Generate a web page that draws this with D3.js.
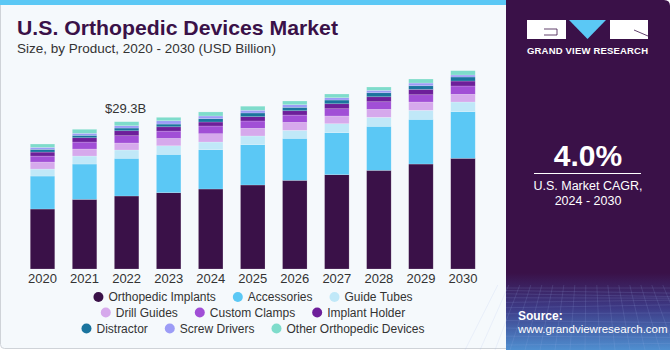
<!DOCTYPE html>
<html lang="en">
<head>
    <meta charset="UTF-8">
    <title>U.S. Orthopedic Devices Market</title>
    <script src="https://d3js.org/d3.v7.min.js"></script>
    <style>
        body {
            margin: 0;
            background: #ffffff;
            font-family: "Liberation Sans", Arial, sans-serif;
        }
        svg {
            display: block;
        }
        .axis-label {
            font-size: 13px;
            fill: #333;
        }
        .legend text {
            font-size: 12px;
            fill: #333;
        }
    </style>
</head>
<body>
    <svg width="670" height="350"></svg>

    <script>
        // Data (USD billion)
        const years = ["2020", "2021", "2022", "2023", "2024", "2025", "2026", "2027", "2028", "2029", "2030"];
        const segments = ["Orthopedic Implants", "Accessories", "Guide Tubes", "Drill Guides", "Custom Clamps",
            "Implant Holder", "Distractor", "Screw Drivers", "Other Orthopedic Devices"];
        const segmentColors = ["#3a1148", "#5bc8f5", "#c0e8f8", "#d6a9ec", "#a14fd6", "#6d1f9a", "#1a749e", "#9c9cf6", "#7edccb"];

        const orthopedicImplants = [11.93, 13.86, 14.52, 15.18, 15.91, 16.71, 17.64, 18.76, 19.63, 20.88, 22.02];
        const accessories        = [6.56, 7.02, 7.50, 7.62, 7.82, 8.02, 8.35, 8.35, 8.75, 8.89, 9.27];
        const guideTubes         = [1.39, 1.59, 1.65, 1.71, 1.53, 1.73, 1.59, 1.79, 1.79, 1.79, 1.93];
        const drillGuides        = [1.39, 1.39, 1.39, 1.47, 1.65, 1.53, 1.59, 1.53, 1.59, 1.65, 1.53];
        const customClamps       = [1.19, 1.39, 1.45, 1.45, 1.53, 1.45, 1.45, 1.45, 1.51, 1.45, 1.65];
        const implantHolder      = [0.80, 0.86, 0.99, 0.86, 0.80, 0.86, 0.86, 0.99, 0.99, 1.07, 0.99];
        const distractor         = [0.54, 0.48, 0.54, 0.54, 0.66, 0.74, 0.68, 0.74, 0.80, 0.72, 0.80];
        const screwDrivers       = [0.40, 0.40, 0.46, 0.66, 0.54, 0.54, 0.52, 0.46, 0.48, 0.54, 0.40];
        const otherDevices       = [0.66, 0.80, 0.80, 0.68, 0.80, 0.80, 0.74, 0.74, 0.66, 0.80, 0.86];

        const seriesValues = [orthopedicImplants, accessories, guideTubes, drillGuides, customClamps,
            implantHolder, distractor, screwDrivers, otherDevices];

        const calloutYear = "2022";
        const calloutText = "$29.3B";
        const legendRows = [[0, 1, 2], [3, 4, 5], [6, 7, 8]];

        // table for d3.stack
        const table = years.map((yr, i) => {
            const row = { year: yr };
            segments.forEach((s, j) => row[s] = seriesValues[j][i]);
            return row;
        });

        const svg = d3.select("svg");
        const W = 670, H = 350;
        const panelW = 506;

        // chart panel background
        svg.append("rect")
            .attr("x", 0.5).attr("y", 0.5)
            .attr("width", panelW + 6).attr("height", H - 2)
            .attr("rx", 4)
            .attr("fill", "#f5f9fc")
            .attr("stroke", "#cfd3d8");
        svg.append("rect")
            .attr("x", 0).attr("y", 0)
            .attr("width", panelW).attr("height", 5)
            .attr("fill", "#5bc8f5");

        // titles
        svg.append("text")
            .attr("x", 17).attr("y", 35)
            .attr("font-size", 21).attr("font-weight", "bold")
            .attr("fill", "#3a1148")
            .attr("textLength", 321).attr("lengthAdjust", "spacingAndGlyphs")
            .text("U.S. Orthopedic Devices Market");
        svg.append("text")
            .attr("x", 17).attr("y", 53)
            .attr("font-size", 13.5).attr("fill", "#333")
            .text("Size, by Product, 2020 - 2030 (USD Billion)");

        // scales
        const baseline = 269;
        const x = d3.scaleBand()
            .domain(years)
            .range([21.5, 484])
            .paddingInner(0.417)
            .paddingOuter(0.2085);
        const y = d3.scaleLinear()
            .domain([0, 40])
            .range([baseline, baseline - 40 * 147.3 / 29.3]);

        const stack = d3.stack().keys(segments);
        const stacked = stack(table);

        const bars = svg.append("g");
        bars.selectAll("g")
            .data(stacked)
            .join("g")
            .attr("fill", (d, i) => segmentColors[i])
            .selectAll("rect")
            .data(d => d)
            .join("rect")
            .attr("x", d => x(d.data.year))
            .attr("width", x.bandwidth())
            .attr("y", d => y(d[1]))
            .attr("height", d => y(d[0]) - y(d[1]))
            .attr("stroke", "#ffffff")
            .attr("stroke-opacity", 0.3)
            .attr("stroke-width", 0.6);

        // x axis labels
        const xAxis = d3.axisBottom(x).tickSize(0).tickPadding(0);
        const gx = svg.append("g")
            .attr("transform", `translate(0, ${baseline + 2})`)
            .call(xAxis);
        gx.select(".domain").remove();
        gx.selectAll("text")
            .attr("class", "axis-label")
            .attr("dy", "0.95em")
            .attr("font-family", "Liberation Sans, Arial, sans-serif");

        // callout
        const totalCallout = d3.sum(seriesValues, s => s[years.indexOf(calloutYear)]);
        svg.append("text")
            .attr("x", x(calloutYear) + x.bandwidth() / 2 - 1)
            .attr("y", y(totalCallout) - 9)
            .attr("text-anchor", "middle")
            .attr("font-size", 13).attr("fill", "#333")
            .text(calloutText);

        // legend
        const legend = svg.append("g").attr("class", "legend");
        const legendCenter = 253;
        const rowY = [297, 312.5, 328.5];
        const itemGap = 17;
        legendRows.forEach((row, r) => {
            const g = legend.append("g");
            let cx = 0;
            row.forEach(k => {
                const item = g.append("g").attr("transform", `translate(${cx},0)`);
                item.append("circle").attr("cx", 5).attr("cy", 0).attr("r", 5).attr("fill", segmentColors[k]);
                const t = item.append("text").attr("x", 15).attr("y", 4.3).text(segments[k]);
                cx += 15 + t.node().getComputedTextLength() + itemGap;
            });
            const rowW = cx - itemGap;
            g.attr("transform", `translate(${legendCenter - rowW / 2},${rowY[r]})`);
        });

        // right side panel
        const side = svg.append("g");
        const defs = svg.append("defs");
        const grad = defs.append("linearGradient")
            .attr("id", "sideGrad").attr("x1", 0).attr("y1", 0).attr("x2", 0).attr("y2", 1);
        grad.append("stop").attr("offset", "0%").attr("stop-color", "#3a1148");
        grad.append("stop").attr("offset", "78%").attr("stop-color", "#3a1148");
        grad.append("stop").attr("offset", "88%").attr("stop-color", "#3d3a86");
        grad.append("stop").attr("offset", "100%").attr("stop-color", "#4f8fd0");
        side.append("path")
            .attr("d", `M${panelW},0 H${W - 6} Q${W},0 ${W},6 V${H} H${panelW} Z`)
            .attr("fill", "url(#sideGrad)");

        // faint grid in the bottom of the side panel
        const grid = side.append("g").attr("stroke", "#9fb8e8").attr("stroke-opacity", 0.25).attr("stroke-width", 0.6).attr("fill", "none");
        d3.range(0, 14).forEach(i => {
            const gy = 288 + i * i * 0.35 + i * 2.2;
            if (gy < H) grid.append("line").attr("x1", panelW).attr("x2", W).attr("y1", gy).attr("y2", gy + 3 * Math.sin(i));
        });
        d3.range(0, 18).forEach(i => {
            const gx0 = panelW + i * 10;
            grid.append("line").attr("x1", gx0 + (gx0 - 588) * 0.1).attr("y1", 285).attr("x2", gx0 + (gx0 - 588) * 0.5).attr("y2", H);
        });

        // logo
        const logo = side.append("g");
        logo.append("rect").attr("x", 527).attr("y", 20).attr("width", 39).attr("height", 19).attr("fill", "#ffffff");
        logo.append("path").attr("d", "M544,29 H557 V35 H544").attr("fill", "none").attr("stroke", "#3a1148").attr("stroke-width", 0.8);
        logo.append("path").attr("d", "M569,20 L606,20 L587.5,39 Z").attr("fill", "#5bc8f5");
        logo.append("rect").attr("x", 610).attr("y", 20).attr("width", 38).attr("height", 19).attr("fill", "#ffffff");
        logo.append("path").attr("d", "M634,30 L648,36").attr("stroke", "#3a1148").attr("stroke-width", 0.8);
        logo.append("text")
            .attr("x", 527).attr("y", 54)
            .attr("font-size", 9.5).attr("font-weight", "bold").attr("fill", "#ffffff")
            .attr("textLength", 121).attr("lengthAdjust", "spacing")
            .text("GRAND VIEW RESEARCH");

        side.append("text")
            .attr("x", 588).attr("y", 166)
            .attr("text-anchor", "middle")
            .attr("font-size", 30).attr("font-weight", "bold").attr("fill", "#ffffff")
            .text("4.0%");
        side.append("line")
            .attr("x1", 534).attr("x2", 641).attr("y1", 173.5).attr("y2", 173.5)
            .attr("stroke", "#ffffff").attr("stroke-width", 1);
        side.append("text")
            .attr("x", 588).attr("y", 190)
            .attr("text-anchor", "middle")
            .attr("font-size", 12.5).attr("fill", "#ffffff")
            .text("U.S. Market CAGR,");
        side.append("text")
            .attr("x", 588).attr("y", 205)
            .attr("text-anchor", "middle")
            .attr("font-size", 12.5).attr("fill", "#ffffff")
            .text("2024 - 2030");
        side.append("text")
            .attr("x", 518).attr("y", 320)
            .attr("font-size", 12).attr("font-weight", "bold").attr("fill", "#ffffff")
            .text("Source:");
        side.append("text")
            .attr("x", 518).attr("y", 333)
            .attr("font-size", 11.5).attr("fill", "#ffffff")
            .text("www.grandviewresearch.com");
    </script>
</body>
</html>
